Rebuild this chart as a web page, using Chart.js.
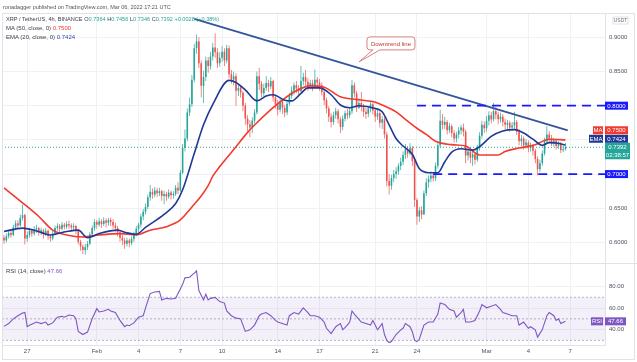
<!DOCTYPE html>
<html>
<head>
<meta charset="utf-8">
<script src="https://cdn.jsdelivr.net/npm/chart.js@4.4.0/dist/chart.umd.min.js"></script>
<style>
  html, body { margin: 0; padding: 0; background: #fff; }
  #wrap { position: relative; width: 637px; height: 362px; overflow: hidden; font-family: "Liberation Sans", Arial, sans-serif; }
  #chart { position: absolute; left: 0; top: 0; }
  .frame { position: absolute; left: 2px; top: 13px; width: 633px; height: 347px; border: 1px solid #dfe2e8; box-sizing: border-box; }
  .txt { position: absolute; white-space: nowrap; font-size: 6px; line-height: 8px; color: #4a4e58; }
  .d { color: #3a3e48; }
  .g { color: #26a69a; }
</style>
</head>
<body>
<div id="wrap">
  <canvas id="chart" width="637" height="362"></canvas>
  <div class="frame"></div>
  <div class="txt" style="left:3px;top:3px;color:#555;font-size:5.5px">ronadagger published on TradingView.com, Mar 06, 2022 17:21 UTC</div>
  <div class="txt" style="left:6px;top:15px;font-size:5.6px"><span class="d">XRP / TetherUS, 4h, BINANCE</span> <span class="d">O</span><span class="g">0.7364</span> <span class="d">H</span><span class="g">0.7456</span> <span class="d">L</span><span class="g">0.7346</span> <span class="d">C</span><span class="g">0.7392</span> <span class="g">+0.0028 (+0.38%)</span></div>
  <div class="txt" style="left:6px;top:24px"><span class="d">MA (50, close, 0)</span> <span style="color:#f23a2e">0.7500</span></div>
  <div class="txt" style="left:6px;top:33px"><span class="d">EMA (20, close, 0)</span> <span style="color:#2a47b0">0.7424</span></div>
  <div class="txt" style="left:6px;top:267px"><span class="d">RSI (14, close)</span> <span style="color:#7e57c2">47.66</span></div>
</div>
<script>
// x values are candle numbers: 0 = Jan 25 08:00, one step = one 4h candle
const tickIdx = [10, 40, 58, 76, 94, 118, 136, 160, 178, 208, 226, 244];
const tickLabels = ['27', 'Feb', '4', '7', '10', '14', '17', '21', '24', 'Mar', '4', '7'];
const priceTicks = [0.6, 0.65, 0.7, 0.75, 0.8, 0.85, 0.9];
const rsiTicks = [40, 60, 80];

const open = [
  0.607, 0.603, 0.609, 0.614, 0.611, 0.622, 0.628, 0.625, 0.636, 0.640,
  0.606, 0.611, 0.617, 0.613, 0.619, 0.621, 0.615, 0.618, 0.612, 0.617, 0.609, 0.606,
  0.613, 0.621, 0.624, 0.620, 0.626, 0.623, 0.627, 0.625, 0.622, 0.624, 0.618, 0.601,
  0.594, 0.589, 0.593, 0.598, 0.612, 0.621, 0.630, 0.626, 0.631, 0.627, 0.632, 0.629,
  0.633, 0.630, 0.625, 0.621, 0.615, 0.607, 0.603, 0.598, 0.603, 0.599, 0.605, 0.612,
  0.620, 0.626, 0.638, 0.645, 0.652, 0.666, 0.674, 0.670, 0.676, 0.672, 0.675, 0.668,
  0.671, 0.667, 0.673, 0.669, 0.671, 0.680, 0.676, 0.702, 0.738, 0.752, 0.790, 0.802,
  0.838, 0.884, 0.894, 0.862, 0.829, 0.842, 0.866, 0.858, 0.872, 0.885, 0.878, 0.862,
  0.870, 0.879, 0.866, 0.884, 0.846, 0.838, 0.843, 0.822, 0.826, 0.819, 0.800, 0.781,
  0.773, 0.768, 0.778, 0.790, 0.843, 0.832, 0.818, 0.826, 0.833, 0.828, 0.836, 0.812,
  0.802, 0.794, 0.806, 0.797, 0.790, 0.803, 0.814, 0.822, 0.830, 0.825, 0.821, 0.836,
  0.842, 0.835, 0.829, 0.833, 0.828, 0.838, 0.834, 0.830, 0.820, 0.808, 0.796, 0.784,
  0.776, 0.786, 0.792, 0.780, 0.769, 0.781, 0.789, 0.786, 0.792, 0.830, 0.818, 0.797,
  0.804, 0.798, 0.791, 0.788, 0.796, 0.802, 0.793, 0.784, 0.789, 0.775, 0.780, 0.758,
  0.690, 0.683, 0.694, 0.700, 0.704, 0.712, 0.718, 0.728, 0.736, 0.730, 0.738, 0.719,
  0.662, 0.638, 0.647, 0.641, 0.672, 0.688, 0.693, 0.698, 0.694, 0.712, 0.742, 0.778,
  0.772, 0.776, 0.764, 0.770, 0.760, 0.752, 0.758, 0.764, 0.768, 0.762, 0.727, 0.733,
  0.724, 0.729, 0.721, 0.738, 0.756, 0.772, 0.767, 0.778, 0.786, 0.780, 0.792, 0.787,
  0.780, 0.784, 0.776, 0.772, 0.775, 0.768, 0.771, 0.776, 0.762, 0.748, 0.752, 0.742,
  0.746, 0.738, 0.741, 0.734, 0.722, 0.707, 0.716, 0.730, 0.748, 0.758, 0.752, 0.746,
  0.749, 0.741, 0.744, 0.735, 0.7364
];
const high = [
  0.611, 0.613, 0.618, 0.617, 0.626, 0.632, 0.633, 0.641, 0.655, 0.642,
  0.616, 0.621, 0.620, 0.624, 0.626, 0.623, 0.622, 0.620, 0.621, 0.619, 0.612, 0.617,
  0.625, 0.628, 0.627, 0.630, 0.629, 0.631, 0.632, 0.628, 0.628, 0.626, 0.620, 0.604,
  0.597, 0.598, 0.602, 0.615, 0.625, 0.634, 0.633, 0.636, 0.634, 0.637, 0.635, 0.636,
  0.636, 0.634, 0.629, 0.624, 0.618, 0.611, 0.607, 0.607, 0.606, 0.609, 0.616, 0.624,
  0.629, 0.642, 0.649, 0.657, 0.670, 0.684, 0.679, 0.681, 0.680, 0.680, 0.677, 0.676,
  0.674, 0.678, 0.676, 0.675, 0.684, 0.688, 0.706, 0.744, 0.765, 0.796, 0.812, 0.845,
  0.890, 0.904, 0.900, 0.866, 0.851, 0.872, 0.871, 0.879, 0.892, 0.906, 0.884, 0.878,
  0.887, 0.884, 0.889, 0.888, 0.852, 0.850, 0.847, 0.832, 0.829, 0.822, 0.804, 0.786,
  0.779, 0.783, 0.795, 0.850, 0.855, 0.836, 0.832, 0.843, 0.838, 0.842, 0.838, 0.816,
  0.808, 0.810, 0.809, 0.801, 0.808, 0.819, 0.828, 0.834, 0.836, 0.830, 0.858, 0.848,
  0.852, 0.840, 0.838, 0.838, 0.853, 0.842, 0.839, 0.834, 0.824, 0.812, 0.799, 0.789,
  0.791, 0.797, 0.795, 0.784, 0.786, 0.793, 0.795, 0.798, 0.838, 0.834, 0.822, 0.811,
  0.820, 0.803, 0.797, 0.800, 0.806, 0.805, 0.797, 0.794, 0.792, 0.785, 0.783, 0.762,
  0.700, 0.699, 0.706, 0.710, 0.716, 0.724, 0.733, 0.744, 0.741, 0.745, 0.741, 0.722,
  0.665, 0.652, 0.653, 0.676, 0.694, 0.698, 0.704, 0.703, 0.717, 0.748, 0.794, 0.788,
  0.784, 0.779, 0.775, 0.773, 0.764, 0.762, 0.769, 0.772, 0.774, 0.765, 0.738, 0.737,
  0.734, 0.732, 0.743, 0.761, 0.778, 0.777, 0.785, 0.792, 0.791, 0.804, 0.798, 0.791,
  0.790, 0.788, 0.781, 0.779, 0.778, 0.776, 0.791, 0.779, 0.766, 0.757, 0.755, 0.751,
  0.749, 0.746, 0.744, 0.737, 0.726, 0.721, 0.735, 0.753, 0.770, 0.763, 0.757, 0.753,
  0.752, 0.748, 0.747, 0.741, 0.7456
];
const low = [
  0.598, 0.600, 0.606, 0.607, 0.609, 0.619, 0.621, 0.623, 0.632, 0.597,
  0.601, 0.607, 0.608, 0.610, 0.614, 0.610, 0.611, 0.606, 0.609, 0.604, 0.601, 0.603,
  0.611, 0.617, 0.615, 0.618, 0.619, 0.620, 0.620, 0.617, 0.618, 0.612, 0.597, 0.588,
  0.583, 0.582, 0.589, 0.596, 0.608, 0.617, 0.620, 0.623, 0.621, 0.624, 0.622, 0.625,
  0.624, 0.620, 0.616, 0.609, 0.601, 0.596, 0.591, 0.594, 0.593, 0.596, 0.601, 0.609,
  0.615, 0.622, 0.633, 0.641, 0.649, 0.661, 0.664, 0.666, 0.667, 0.668, 0.661, 0.656,
  0.661, 0.664, 0.663, 0.664, 0.668, 0.671, 0.674, 0.700, 0.733, 0.748, 0.785, 0.798,
  0.834, 0.876, 0.855, 0.812, 0.804, 0.836, 0.848, 0.853, 0.866, 0.870, 0.855, 0.857,
  0.864, 0.858, 0.862, 0.840, 0.832, 0.830, 0.800, 0.814, 0.812, 0.792, 0.772, 0.763,
  0.754, 0.760, 0.774, 0.787, 0.823, 0.812, 0.814, 0.822, 0.820, 0.824, 0.806, 0.796,
  0.786, 0.790, 0.788, 0.783, 0.786, 0.800, 0.810, 0.816, 0.818, 0.815, 0.820, 0.830,
  0.829, 0.822, 0.824, 0.821, 0.826, 0.826, 0.822, 0.815, 0.801, 0.789, 0.776, 0.768,
  0.772, 0.781, 0.774, 0.760, 0.764, 0.777, 0.780, 0.782, 0.788, 0.812, 0.791, 0.795,
  0.792, 0.784, 0.781, 0.783, 0.790, 0.787, 0.776, 0.779, 0.768, 0.766, 0.752, 0.682,
  0.670, 0.677, 0.688, 0.693, 0.699, 0.706, 0.713, 0.722, 0.724, 0.727, 0.712, 0.652,
  0.626, 0.630, 0.634, 0.640, 0.668, 0.680, 0.688, 0.689, 0.690, 0.708, 0.738, 0.765,
  0.766, 0.758, 0.760, 0.754, 0.746, 0.746, 0.752, 0.758, 0.755, 0.716, 0.720, 0.716,
  0.712, 0.714, 0.718, 0.734, 0.752, 0.760, 0.762, 0.771, 0.774, 0.777, 0.780, 0.773,
  0.775, 0.770, 0.765, 0.766, 0.762, 0.763, 0.766, 0.757, 0.742, 0.741, 0.736, 0.737,
  0.732, 0.733, 0.727, 0.716, 0.698, 0.703, 0.712, 0.727, 0.744, 0.745, 0.741, 0.740,
  0.736, 0.737, 0.731, 0.732, 0.7346
];
const close = [
  0.603, 0.609, 0.614, 0.611, 0.622, 0.628, 0.625, 0.636, 0.640, 0.606,
  0.611, 0.617, 0.613, 0.619, 0.621, 0.615, 0.618, 0.612, 0.617, 0.609, 0.606, 0.613,
  0.621, 0.624, 0.620, 0.626, 0.623, 0.627, 0.625, 0.622, 0.624, 0.618, 0.601, 0.594,
  0.589, 0.593, 0.598, 0.612, 0.621, 0.630, 0.626, 0.631, 0.627, 0.632, 0.629, 0.633,
  0.630, 0.625, 0.621, 0.615, 0.607, 0.603, 0.598, 0.603, 0.599, 0.605, 0.612, 0.620,
  0.626, 0.638, 0.645, 0.652, 0.666, 0.674, 0.670, 0.676, 0.672, 0.675, 0.668, 0.671,
  0.667, 0.673, 0.669, 0.671, 0.680, 0.676, 0.702, 0.738, 0.752, 0.790, 0.802, 0.838,
  0.884, 0.894, 0.862, 0.829, 0.842, 0.866, 0.858, 0.872, 0.885, 0.878, 0.862, 0.870,
  0.879, 0.866, 0.884, 0.846, 0.838, 0.843, 0.822, 0.826, 0.819, 0.800, 0.781, 0.773,
  0.768, 0.778, 0.790, 0.843, 0.832, 0.818, 0.826, 0.833, 0.828, 0.836, 0.812, 0.802,
  0.794, 0.806, 0.797, 0.790, 0.803, 0.814, 0.822, 0.830, 0.825, 0.821, 0.836, 0.842,
  0.835, 0.829, 0.833, 0.828, 0.838, 0.834, 0.830, 0.820, 0.808, 0.796, 0.784, 0.776,
  0.786, 0.792, 0.780, 0.769, 0.781, 0.789, 0.786, 0.792, 0.830, 0.818, 0.797, 0.804,
  0.798, 0.791, 0.788, 0.796, 0.802, 0.793, 0.784, 0.789, 0.775, 0.780, 0.758, 0.690,
  0.683, 0.694, 0.700, 0.704, 0.712, 0.718, 0.728, 0.736, 0.730, 0.738, 0.719, 0.662,
  0.638, 0.647, 0.641, 0.672, 0.688, 0.693, 0.698, 0.694, 0.712, 0.742, 0.778, 0.772,
  0.776, 0.764, 0.770, 0.760, 0.752, 0.758, 0.764, 0.768, 0.762, 0.727, 0.733, 0.724,
  0.729, 0.721, 0.738, 0.756, 0.772, 0.767, 0.778, 0.786, 0.780, 0.792, 0.787, 0.780,
  0.784, 0.776, 0.772, 0.775, 0.768, 0.771, 0.776, 0.762, 0.748, 0.752, 0.742, 0.746,
  0.738, 0.741, 0.734, 0.722, 0.707, 0.716, 0.730, 0.748, 0.758, 0.752, 0.746, 0.749,
  0.741, 0.744, 0.735, 0.7364, 0.7392
];

// MA (50) and EMA (20) at these candles
const maIdx = [0, 8, 15, 21, 27, 34, 41, 50, 57, 63, 70, 76, 81, 85, 88, 90, 93, 100, 105, 109,
  117, 125, 132, 138, 145, 152, 159, 163, 169, 173, 178, 182, 186, 193, 199, 205, 213, 216, 222, 229, 235, 242];
const maVal = [0.680, 0.658, 0.638, 0.618, 0.611, 0.608, 0.611, 0.613, 0.611, 0.618, 0.623, 0.633, 0.652, 0.668, 0.683, 0.697, 0.711, 0.740, 0.761, 0.775,
  0.800, 0.820, 0.829, 0.827, 0.813, 0.809, 0.806, 0.801, 0.791, 0.780, 0.767, 0.758, 0.748, 0.743, 0.741, 0.728, 0.728, 0.733, 0.738, 0.743, 0.751, 0.7500];
const emaIdx = [0, 8, 13, 20, 27, 32, 36, 41, 49, 53, 57, 61, 69, 74, 77, 82, 86, 90, 97, 100,
  104, 109, 113, 116, 121, 124, 128, 131, 136, 141, 145, 149, 153, 160, 163, 166, 169, 172, 176, 179,
  183, 187, 190, 193, 197, 202, 205, 210, 215, 220, 224, 228, 232, 235, 239, 242];
const emaVal = [0.616, 0.621, 0.618, 0.611, 0.616, 0.618, 0.607, 0.613, 0.618, 0.614, 0.612, 0.622, 0.641, 0.657, 0.677, 0.730, 0.772, 0.802, 0.837, 0.834,
  0.823, 0.807, 0.814, 0.816, 0.808, 0.807, 0.818, 0.826, 0.826, 0.816, 0.801, 0.797, 0.800, 0.796, 0.791, 0.772, 0.752, 0.741, 0.729, 0.708,
  0.702, 0.702, 0.718, 0.732, 0.737, 0.735, 0.740, 0.755, 0.763, 0.765, 0.760, 0.751, 0.742, 0.746, 0.745, 0.7424];

// RSI (14)
const rsiIdx = [0, 2, 4, 6, 8, 9, 10, 11, 14, 16,
  18, 19, 21, 23, 25, 26, 28, 30, 31, 32,
  34, 36, 38, 40, 41, 43, 45, 46, 48, 50,
  52, 53, 54, 56, 58, 60, 61, 63, 65, 67,
  68, 70, 72, 74, 75, 77, 78, 80, 82, 83,
  84, 86, 87, 88, 89, 91, 93, 95, 96, 98,
  100, 102, 104, 106, 108, 110, 111, 113, 115, 117,
  118, 120, 122, 123, 125, 127, 129, 131, 132, 134,
  136, 138, 139, 141, 143, 145, 146, 148, 149, 150,
  151, 154, 156, 158, 159, 161, 163, 164, 165, 166,
  167, 169, 171, 172, 173, 175, 176, 177, 178, 179,
  181, 183, 185, 187, 188, 190, 192, 194, 195, 197,
  198, 199, 201, 203, 205, 206, 208, 210, 212, 214,
  215, 217, 219, 221, 222, 224, 226, 227, 229, 230,
  232, 234, 235, 237, 238, 239, 240, 242];
const rsiVal = [43, 45.6, 50, 52.9, 55.3, 56, 42.7, 44, 47, 45.6,
  47, 44.2, 46.2, 51.5, 52.3, 51.5, 53.5, 52.9, 50, 38.3,
  35.4, 37.7, 50, 59.4, 56.4, 57.3, 58.8, 57.3, 55.8, 48.5,
  42.7, 44.2, 43.6, 46.2, 51.5, 52.9, 60, 73.4, 74.9, 75.4,
  67.5, 69, 68.4, 69, 73.4, 82, 88, 88.6, 92.4, 94.4,
  76.3, 67.5, 72.8, 67.5, 69, 69.9, 66, 64.6, 57.3, 52.9,
  50.6, 50, 38.3, 39.8, 44.2, 52.9, 54.4, 55.8, 52.9, 48.5,
  47, 45.6, 44.2, 52.9, 55.8, 54.4, 60.2, 55.8, 52.9, 52.9,
  51.5, 47, 41.2, 36.3, 42.7, 45.6, 39.8, 44.2, 47, 57.3,
  54.4, 47, 45.6, 44.2, 48.5, 39.8, 45.6, 35.4, 30, 28,
  28.9, 35.4, 39.8, 41.2, 45.6, 42.7, 38, 30, 28.9, 31,
  44.2, 47, 47, 54.4, 64.6, 63.2, 58.8, 57.3, 51.5, 55.8,
  58.8, 47, 47, 48.5, 57.3, 63.2, 60.2, 61.7, 63.2, 58.8,
  55.8, 54.4, 52.9, 52.9, 44.2, 47, 41.2, 42.7, 39.8, 33,
  39.8, 52.9, 55.8, 52.9, 48.5, 50, 45.6, 47.66];
const rsiLevels = [70, 50, 30];

// drawings
const trendIdx = [82, 243];
const trendVal = [0.927, 0.764];
const levelVals = [0.8, 0.7];
const levelFrom = [178, 185];
const noteAt = [153, 0.864];
const noteText = 'Downtrend line';

const xMin = -0.86, xMax = 259.05;
const font = '"Liberation Sans", Arial, sans-serif';
const upColor = '#26a69a', downColor = '#ef5350';
const gridColor = '#eff1f5', lineColor = '#dfe2e8', labelColor = '#4c525e';

Chart.defaults.font.family = font;

const candleColors = close.map((c, i) => (c >= open[i] ? upColor : downColor));
const pts = (xs, ys) => xs.map((x, k) => ({ x, y: ys[k] }));
const lastClose = close[close.length - 1];
const lastMa = maVal[maVal.length - 1];
const lastEma = emaVal[emaVal.length - 1];
const lastRsi = rsiVal[rsiVal.length - 1];

const flat = (y, from, axis, extra) => Object.assign({
    type: 'line',
    data: [{ x: from, y }, { x: xMax, y }],
    yAxisID: axis,
    pointRadius: 0,
    borderWidth: 1,
}, extra);

const datasets = [
    {
        type: 'bar',
        data: close.map((c, i) => ({ x: i, y: [low[i], high[i]] })),
        backgroundColor: candleColors,
        barThickness: 0.7,
        grouped: false,
        inflateAmount: 0,
        borderWidth: 0,
        yAxisID: 'y',
        order: 9,
    },
    {
        type: 'bar',
        data: close.map((c, i) => ({ x: i, y: [open[i], c] })),
        backgroundColor: candleColors,
        barThickness: 1.6,
        grouped: false,
        inflateAmount: 0,
        borderWidth: 0,
        minBarLength: 1,
        yAxisID: 'y',
        order: 8,
    },
    flat(lastClose, xMin, 'y', { borderColor: upColor, borderDash: [1, 2], order: 7 }),
    {
        type: 'line',
        data: pts(maIdx, maVal),
        borderColor: '#f23a2e',
        borderWidth: 1.6,
        pointRadius: 0,
        cubicInterpolationMode: 'monotone',
        yAxisID: 'y',
        order: 4,
    },
    {
        type: 'line',
        data: pts(emaIdx, emaVal),
        borderColor: '#1f3a96',
        borderWidth: 1.6,
        pointRadius: 0,
        cubicInterpolationMode: 'monotone',
        yAxisID: 'y',
        order: 3,
    },
    {
        type: 'line',
        data: pts(trendIdx, trendVal),
        borderColor: '#34559b',
        borderWidth: 1.8,
        pointRadius: 0,
        yAxisID: 'y',
        order: 2,
    },
    ...levelVals.map((v, k) => flat(v, levelFrom[k], 'y', {
        borderColor: '#1a1aff', borderWidth: 1.8, borderDash: [9, 6], order: 1,
    })),
    ...rsiLevels.map((v, k) => flat(v, xMin, 'yRsi', {
        borderColor: '#a3a6b0', borderWidth: 0.8, borderDash: [2, 2], order: 6,
        fill: k === 0 ? { value: rsiLevels[2] } : false,
        backgroundColor: 'rgba(126, 87, 194, 0.09)',
    })),
    {
        type: 'line',
        data: pts(rsiIdx, rsiVal),
        borderColor: '#7e57c2',
        borderWidth: 1.1,
        pointRadius: 0,
        yAxisID: 'yRsi',
        order: 1,
    },
];

const overlay = {
    id: 'overlay',
    beforeDatasetsDraw(chart) {
        const { ctx, chartArea } = chart;
        const y = chart.scales.y;
        ctx.save();
        ctx.strokeStyle = lineColor;
        ctx.lineWidth = 1;
        ctx.beginPath();
        ctx.moveTo(chartArea.left, Math.round(y.bottom) + 0.5);
        ctx.lineTo(chart.width, Math.round(y.bottom) + 0.5);
        ctx.stroke();
        ctx.restore();
    },
    afterDatasetsDraw(chart) {
        const { ctx, chartArea } = chart;
        const y = chart.scales.y;
        const r = chart.scales.yRsi;
        const ax = chartArea.right;
        ctx.save();
        ctx.font = '6px ' + font;
        ctx.textAlign = 'center';
        ctx.textBaseline = 'middle';

        const box = (x, yc, w, h, bg, text) => {
            ctx.fillStyle = bg;
            ctx.fillRect(x, yc - h / 2, w, h);
            ctx.fillStyle = '#fff';
            ctx.fillText(text, x + w / 2, yc + 0.5);
        };

        // level tags
        levelVals.forEach((v) => box(ax, y.getPixelForValue(v), 23, 8, '#1a1aff', v.toFixed(4)));

        // last price tag with countdown
        const pp = y.getPixelForValue(lastClose);
        ctx.fillStyle = upColor;
        ctx.fillRect(ax, pp - 4.5, 25, 16.5);
        ctx.fillStyle = '#fff';
        ctx.fillText(lastClose.toFixed(4), ax + 12.5, pp + 0.5);
        ctx.fillText('02:38:57', ax + 12.5, pp + 8.5);

        // EMA and MA tags pushed up so they do not overlap
        const pe = Math.min(y.getPixelForValue(lastEma), pp - 8.5);
        box(ax - 16, pe, 14, 8, '#1f3a96', 'EMA');
        box(ax, pe, 23, 8, '#1f3a96', lastEma.toFixed(4));
        const pm = Math.min(y.getPixelForValue(lastMa), pe - 8.5);
        box(ax - 12, pm, 10, 8, '#f23a2e', 'MA');
        box(ax, pm, 23, 8, '#f23a2e', lastMa.toFixed(4));

        // RSI tag
        const pr = r.getPixelForValue(lastRsi);
        box(ax - 14, pr, 12, 8, '#7e57c2', 'RSI');
        box(ax, pr, 21, 8, '#7e57c2', lastRsi.toFixed(2));

        // USDT badge
        ctx.fillStyle = '#fff';
        ctx.fillRect(ax + 8, 17, 15, 7);
        ctx.strokeStyle = '#c9ccd4';
        ctx.lineWidth = 0.6;
        ctx.strokeRect(ax + 8, 17, 15, 7);
        ctx.fillStyle = '#6a6d78';
        ctx.font = '5px ' + font;
        ctx.fillText('USDT', ax + 15.5, 20.7);

        // callout
        const tx = chart.scales.x.getPixelForValue(noteAt[0]);
        const ty = y.getPixelForValue(noteAt[1]);
        const bx = tx + 8, by = ty - 25, bw = 48, bh = 13, rr = 3;
        ctx.beginPath();
        ctx.moveTo(bx + rr, by);
        ctx.lineTo(bx + bw - rr, by);
        ctx.arcTo(bx + bw, by, bx + bw, by + rr, rr);
        ctx.lineTo(bx + bw, by + bh - rr);
        ctx.arcTo(bx + bw, by + bh, bx + bw - rr, by + bh, rr);
        ctx.lineTo(bx + 13, by + bh);
        ctx.lineTo(tx, ty);
        ctx.lineTo(bx + 6, by + bh);
        ctx.lineTo(bx + rr, by + bh);
        ctx.arcTo(bx, by + bh, bx, by + bh - rr, rr);
        ctx.lineTo(bx, by + rr);
        ctx.arcTo(bx, by, bx + rr, by, rr);
        ctx.closePath();
        ctx.fillStyle = '#fff';
        ctx.fill();
        ctx.strokeStyle = '#d98080';
        ctx.lineWidth = 1;
        ctx.stroke();
        ctx.fillStyle = '#c0392b';
        ctx.font = '6px ' + font;
        ctx.fillText(noteText, bx + bw / 2, by + bh / 2 + 0.5);
        ctx.restore();
    },
};

const tickFont = { size: 6, family: font };

new Chart(document.getElementById('chart'), {
    type: 'bar',
    data: { datasets },
    options: {
        responsive: false,
        animation: false,
        devicePixelRatio: 1,
        events: [],
        layout: { padding: { top: 13, left: 2, right: 0, bottom: 0 } },
        plugins: { legend: { display: false }, tooltip: { enabled: false } },
        scales: {
            x: {
                type: 'linear',
                min: xMin,
                max: xMax,
                offset: false,
                grid: { color: gridColor, drawTicks: false, offset: false },
                border: { display: true, color: lineColor },
                ticks: {
                    autoSkip: false,
                    maxRotation: 0,
                    padding: 3,
                    color: labelColor,
                    font: tickFont,
                    callback: (v) => tickLabels[tickIdx.indexOf(v)] || '',
                },
                afterBuildTicks: (s) => { s.ticks = tickIdx.map((v) => ({ value: v })); },
                afterFit: (s) => { s.height = 17; },
            },
            y: {
                type: 'linear',
                position: 'right',
                stack: 'pane',
                stackWeight: 250,
                min: 0.570,
                max: 0.9355,
                grid: { color: gridColor, drawTicks: false },
                border: { display: true, color: lineColor },
                ticks: { padding: 4, color: labelColor, font: tickFont, callback: (v) => v.toFixed(4) },
                afterBuildTicks: (s) => { s.ticks = priceTicks.map((v) => ({ value: v })); },
                afterFit: (s) => { s.width = 32; },
            },
            yRsi: {
                type: 'linear',
                position: 'right',
                stack: 'pane',
                stackWeight: 82,
                min: 25.7,
                max: 101.8,
                grid: { color: gridColor, drawTicks: false },
                border: { display: true, color: lineColor },
                ticks: { padding: 4, color: labelColor, font: tickFont, callback: (v) => v.toFixed(2) },
                afterBuildTicks: (s) => { s.ticks = rsiTicks.map((v) => ({ value: v })); },
                afterFit: (s) => { s.width = 32; },
            },
        },
    },
    plugins: [overlay],
});
</script>
</body>
</html>
